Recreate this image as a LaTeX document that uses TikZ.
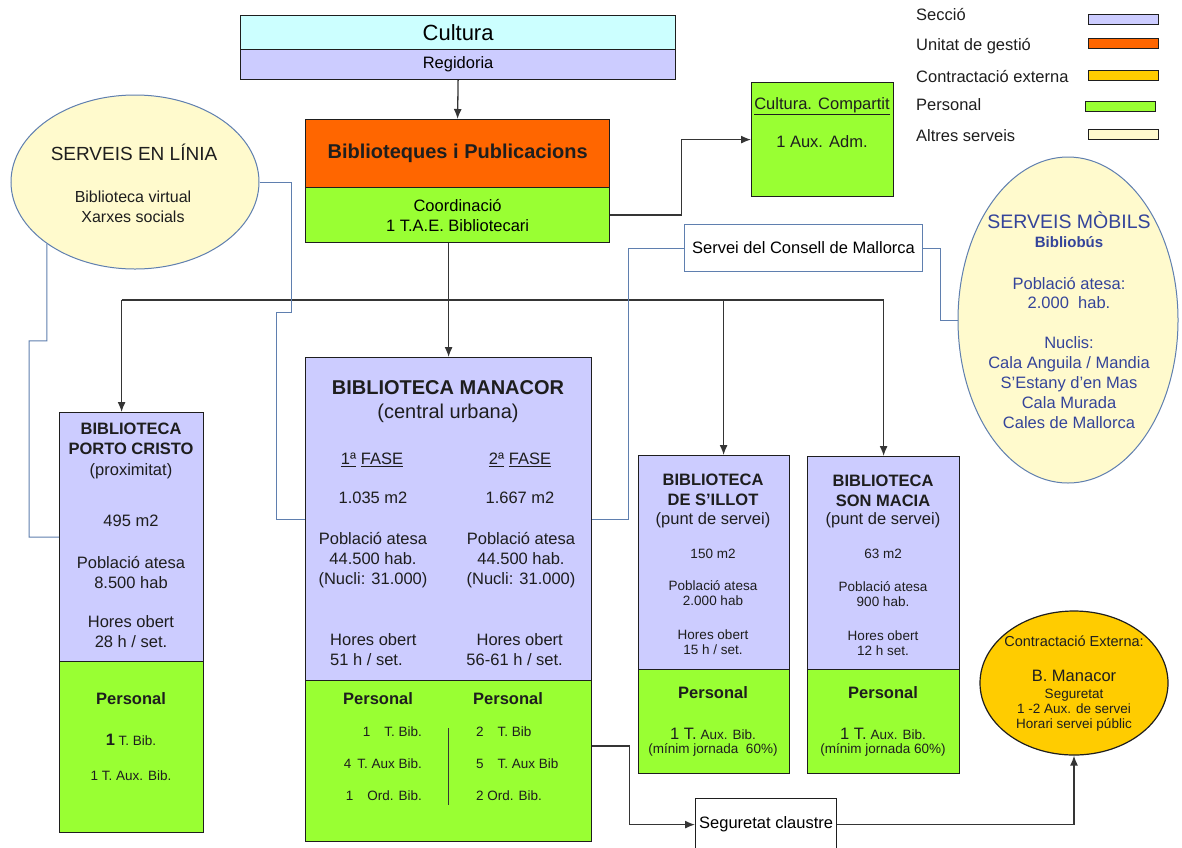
\documentclass[tikz,border=0pt]{standalone}
\usepackage{fontspec}
\setmainfont{Liberation Sans}
\usetikzlibrary{arrows.meta,shapes.geometric}
\definecolor{seccio}{HTML}{CCCCFF}
\definecolor{cultcyan}{HTML}{CCFFFF}
\definecolor{gestio}{HTML}{FF6600}
\definecolor{extern}{HTML}{FFCC00}
\definecolor{personal}{HTML}{99FF33}
\definecolor{altres}{HTML}{FFFACD}
\definecolor{linkblue}{HTML}{5F7FAF}
\definecolor{mobtext}{HTML}{34449A}
\definecolor{ink}{HTML}{1E1E1E}
\newcommand{\setfs}[2]{\fontsize{#1}{#2}\selectfont}

\begin{document}
\begin{tikzpicture}[x=1pt,y=-1pt,>={Latex[length=10pt,width=8pt]},
  box/.style={draw=ink, line width=1.2pt, inner sep=0pt, anchor=north west},
  lbl/.style={inner sep=0pt, align=center, text=ink, font=\setfs{16.5}{20}},
  sml/.style={lbl, font=\setfs{13.5}{15.5}},
  ttl/.style={lbl, font=\setfs{16.5}{20}\bfseries},
  swatch/.style={draw=ink, line width=1pt, minimum width=70pt, minimum height=10pt, inner sep=0pt, anchor=west},
  wire/.style={draw=ink!90, line width=1.3pt},
  link/.style={draw=linkblue, line width=1pt}]
\useasboundingbox (0,0) rectangle (1182,847);
\fill[white] (0,0) rectangle (1182,847);

% top of the chart
\node[box, fill=cultcyan, minimum width=435pt, minimum height=34pt, font=\setfs{22}{24}] (cult) at (240,15) {Cultura};
\node[box, fill=seccio, minimum width=435pt, minimum height=30pt, font=\setfs{16.5}{20}] (regi) at (240,49) {Regidoria};
\node[box, fill=gestio, minimum width=304pt, minimum height=68pt, font=\setfs{20}{24}\bfseries, text=ink] (bibo) at (305,119) {Biblioteques i Publicacions};
\node[box, fill=personal, minimum width=304pt, minimum height=55pt, font=\setfs{16.5}{20}, align=center] (bibg) at (305,187) {Coordinació\\1 T.A.E. Bibliotecari};

\node[box, fill=personal, minimum width=142pt, minimum height=114pt] (comp) at (751,82) {};
\node[lbl] (compt) at (822,106) {\underline{Cultura. Compartit}};
\node[lbl] (compa) at (822,142) {1 Aux. Adm.};

% legend
\node[lbl, anchor=west] (lgsec) at (916,15) {Secció};
\node[lbl, anchor=west] (lgges) at (916,46) {Unitat de gestió};
\node[lbl, anchor=west] (lgext) at (916,77) {Contractació externa};
\node[lbl, anchor=west] (lgper) at (916,105) {Personal};
\node[lbl, anchor=west] (lgalt) at (916,136) {Altres serveis};
\node[swatch, fill=seccio] (swsec) at (1088,19) {};
\node[swatch, fill=gestio] (swges) at (1088,43) {};
\node[swatch, fill=extern] (swext) at (1088,75.5) {};
\node[swatch, fill=personal] (swper) at (1085,106) {};
\node[swatch, fill=altres] (swalt) at (1088,134) {};

% other services
\node[ellipse, draw=linkblue, line width=1pt, fill=altres, minimum width=248pt, minimum height=174pt, inner sep=0pt] (onl) at (135,182) {};
\node[lbl, font=\setfs{19}{22}] (onlt) at (134,152) {SERVEIS EN LÍNIA};
\node[lbl, font=\setfs{16}{20}] (onlx) at (133,207) {Biblioteca virtual\\Xarxes socials};

\node[ellipse, draw=linkblue, line width=1pt, fill=altres, minimum width=220pt, minimum height=326pt, inner sep=0pt] (mob) at (1068,320) {};
\node[lbl, text=mobtext, font=\setfs{19.5}{22}] (mobt) at (1069,220) {SERVEIS MÒBILS};
\node[lbl, text=mobtext, font=\setfs{15}{18}\bfseries] (mobb) at (1069,242) {Bibliobús};
\node[lbl, text=mobtext, font=\setfs{16.5}{19}] (mobp) at (1069,293) {Població atesa:\\2.000\ \ hab.};
\node[lbl, text=mobtext] (mobn) at (1069,383) {Nuclis:\\Cala Anguila / Mandia\\S’Estany d’en Mas\\Cala Murada\\Cales de Mallorca};

\node[box, draw=linkblue, line width=1pt, fill=white, minimum width=238pt, minimum height=47pt, font=\setfs{16.5}{20}] (cons) at (684,224) {Servei del Consell de Mallorca};

% libraries
\node[box, fill=seccio, minimum width=144pt, minimum height=249pt] (pc) at (59,412) {};
\node[box, fill=personal, minimum width=144pt, minimum height=171pt] (pcg) at (59,661) {};
\node[ttl] (pct) at (131,439) {BIBLIOTECA\\PORTO CRISTO};
\node[lbl] (pcs) at (131,471) {(proximitat)};
\node[lbl] (pcm) at (131,521) {495 m2};
\node[lbl] (pcp) at (131,572) {Població atesa\\8.500 hab};
\node[lbl] (pch) at (131,632) {Hores obert\\28 h / set.};
\node[ttl] (pcgt) at (131,699) {Personal};
\node[sml] (pcg1) at (131,740) {{\setfs{16.5}{20}\bfseries 1} T. Bib.};
\node[sml] (pcg2) at (131,776) {1 T. Aux. Bib.};

\node[box, fill=seccio, minimum width=286pt, minimum height=323pt] (man) at (305,357) {};
\node[box, fill=personal, minimum width=286pt, minimum height=161pt] (mang) at (305,680) {};
\node[lbl, font=\setfs{20}{24}\bfseries] (mant) at (448,388) {BIBLIOTECA MANACOR};
\node[lbl, font=\setfs{20}{24}] (mans) at (448,413) {(central urbana)};
\node[lbl] (manf1) at (372,460) {\underline{1ª}\ \underline{FASE}};
\node[lbl] (manf2) at (520,460) {\underline{2ª}\ \underline{FASE}};
\node[lbl] (manm1) at (373,498) {1.035 m2};
\node[lbl] (manm2) at (520,498) {1.667 m2};
\node[lbl] (manp1) at (373,560) {Població atesa\\44.500 hab.\\(Nucli: 31.000)};
\node[lbl] (manp2) at (521,560) {Població atesa\\44.500 hab.\\(Nucli: 31.000)};
\node[lbl, align=left, anchor=west] (manh1) at (330,650) {Hores obert\\51 h / set.};
\node[lbl, align=right, anchor=east] (manh2) at (563,650) {Hores obert\\56-61 h / set.};
\node[ttl] (mangt1) at (378,699) {Personal};
\node[ttl] (mangt2) at (508,699) {Personal};
\node[sml, font=\setfs{13.5}{32}, align=right, anchor=east] (mang1) at (422,764) {1\hspace{14pt}T. Bib.\\4\hspace{6pt}T. Aux Bib.\\1\hspace{14pt}Ord. Bib.};
\node[sml, font=\setfs{13.5}{32}, align=left, anchor=west] (mang2) at (476,764) {2\hspace{14pt}T. Bib\\5\hspace{14pt}T. Aux Bib\\2 Ord. Bib.};
\draw[wire, line width=1.5pt] ([yshift=-48pt]mang.north) -- ([yshift=-125pt]mang.north);

\node[box, fill=seccio, minimum width=151pt, minimum height=214pt] (sil) at (638,455) {};
\node[box, fill=personal, minimum width=151pt, minimum height=104pt] (silg) at (638,669) {};
\node[ttl] (silt) at (713,490) {BIBLIOTECA\\DE S’ILLOT};
\node[lbl] (sils) at (713,520) {(punt de servei)};
\node[sml] (silm) at (713,554) {150 m2};
\node[sml] (silp) at (713,593) {Població atesa\\2.000 hab};
\node[sml] (silh) at (713,642) {Hores obert\\15 h / set.};
\node[ttl] (silgt) at (713,693) {Personal};
\node[sml] (silg1) at (713,734) {{\setfs{16.5}{20}1 T.} Aux. Bib.};
\node[sml] (silg2) at (713,750) {(mínim jornada\ \ 60\%)};

\node[box, fill=seccio, minimum width=152pt, minimum height=213pt] (smac) at (807,456) {};
\node[box, fill=personal, minimum width=152pt, minimum height=104pt] (smacg) at (807,669) {};
\node[ttl] (smact) at (883,491) {BIBLIOTECA\\SON MACIA};
\node[lbl] (smacs) at (883,520) {(punt de servei)};
\node[sml] (smacm) at (883,554) {63 m2};
\node[sml] (smacp) at (883,594) {Població atesa\\900 hab.};
\node[sml] (smach) at (883,643) {Hores obert\\12 h set.};
\node[ttl] (smacgt) at (883,693) {Personal};
\node[sml] (smacg1) at (883,734) {{\setfs{16.5}{20}1 T.} Aux. Bib.};
\node[sml] (smacg2) at (883,750) {(mínim jornada 60\%)};

% external contract
\node[ellipse, draw=ink, line width=1.2pt, fill=extern, minimum width=188pt, minimum height=144pt, inner sep=0pt] (cext) at (1074,683) {};
\node[lbl, font=\setfs{14.5}{17}] (cextt) at (1074,641) {Contractació Externa:};
\node[lbl] (cextb) at (1074,676) {B. Manacor};
\node[sml, font=\setfs{13.5}{15}] (cextx) at (1074,710) {Seguretat\\1 -2 Aux. de servei\\Horari servei públic};

\node[box, fill=white, minimum width=141pt, minimum height=52pt, font=\setfs{16.5}{20}] (seg) at (695,798) {Seguretat claustre};

% connectors
\coordinate (bus) at (0,300);
\coordinate (pcin) at ([xshift=-10pt]pc.north);
\coordinate (silin) at ([xshift=9.5pt]sil.north);
\draw[wire,->] (regi.south) -- (bibo.north);
\draw[wire,->] (bibg.east) -- ++(71,0) |- (comp.west);
\draw[wire,->] (man.north |- bibg.south) -- (man.north);
\draw[wire] (pcin |- bus) -- (smac.north |- bus);
\draw[wire,->] (pcin |- bus) -- (pcin);
\draw[wire,->] (silin |- bus) -- (silin);
\draw[wire,->] (smac.north |- bus) -- (smac.north);
\draw[wire,->] ([yshift=15pt]mang.east) -- ++(37,0) |- (seg.west);
\draw[wire,->] (seg.east) -| (cext.south);

\draw[link] (onl.215.5) -- ++(0,97) -| (29,537) -- (pc.west);
\draw[link] (onl.east) -| (291,312) -- (276,312) |- (man.west);
\draw[link] (cons.west) -- ++(-56,0) |- (man.east);
\draw[link] (cons.east) -- ++(17,0) |- (mob.west);
\end{tikzpicture}
\end{document}
